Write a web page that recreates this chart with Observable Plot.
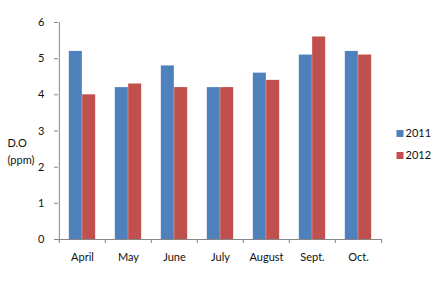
<!DOCTYPE html>
<html>
<head>
<meta charset="utf-8">
<script src="https://cdn.jsdelivr.net/npm/d3@7"></script>
<script src="https://cdn.jsdelivr.net/npm/@observablehq/plot@0.6"></script>
<style>
  html, body { margin: 0; padding: 0; background: #fff; }
  svg { display: block; }
</style>
</head>
<body>
<div id="chart"></div>
<script>
const months = ["April", "May", "June", "July", "August", "Sept.", "Oct."];
const years = ["2011", "2012"];
const values2011 = [5.2, 4.2, 4.8, 4.2, 4.6, 5.1, 5.2];
const values2012 = [4.0, 4.3, 4.2, 4.2, 4.4, 5.6, 5.1];
const yTicks = [0, 1, 2, 3, 4, 5, 6];
const yLabel = "D.O\n(ppm)";
const colors = ["#4F81BD", "#C0504D"];

const data = [];
months.forEach((m, i) => {
  data.push({month: m, year: years[0], value: values2011[i]});
  data.push({month: m, year: years[1], value: values2012[i]});
});

const W = 443, H = 284;
const mL = 58, mR = 61, mT = 22, mB = 45;
const bw = (W - mL - mR) / months.length;
const barW = bw * 0.288;
const pad = (bw - 2 * barW) / 2;
const axisColor = "#868686";
const textColor = "#111";
const font = "Lato, 'Noto Sans', sans-serif";

const legendMarks = years.flatMap((yr, i) => [
  Plot.dot([yr], {frameAnchor: "right", dx: 17.5, dy: 2.5 + 22 * i, fill: d => d, symbol: "square", r: 3.95}),
  Plot.text([yr], {frameAnchor: "right", dx: 23, dy: 2.5 + 22 * i, textAnchor: "start", fill: textColor})
]);

const plot = Plot.plot({
  width: W,
  height: H,
  marginLeft: mL,
  marginRight: mR,
  marginTop: mT,
  marginBottom: mB,
  style: {fontFamily: font, fontSize: "11px", color: textColor, background: "#fff"},
  x: {domain: months, padding: 0, label: null},
  y: {domain: [0, 6], label: null},
  color: {domain: years, range: colors},
  marks: [
    Plot.barY(data.filter(d => d.year === years[0]), {x: "month", y: "value", fill: "year", insetLeft: pad, insetRight: pad + barW}),
    Plot.barY(data.filter(d => d.year === years[1]), {x: "month", y: "value", fill: "year", insetLeft: pad + barW, insetRight: pad}),
    Plot.ruleY([0], {stroke: axisColor}),
    Plot.ruleX([months[0]], {y1: 0, y2: 6, dx: -bw / 2, stroke: axisColor}),
    Plot.ruleX(months, {y1: 0, y2: 0, insetBottom: -4, dx: -bw / 2, stroke: axisColor}),
    Plot.ruleX([months[months.length - 1]], {y1: 0, y2: 0, insetBottom: -4, dx: bw / 2, stroke: axisColor}),
    Plot.axisX({tickSize: 0, tickPadding: 14, fill: textColor}),
    Plot.axisY({ticks: yTicks, tickSize: 4, tickPadding: 10, stroke: axisColor, fill: textColor, tickFormat: d => String(d)}),
    Plot.text([yLabel], {frameAnchor: "left", textAnchor: "start", dx: -51, dy: 19, fill: textColor, lineHeight: 1.5}),
    ...legendMarks
  ]
});

document.getElementById("chart").appendChild(plot);
</script>
</body>
</html>
